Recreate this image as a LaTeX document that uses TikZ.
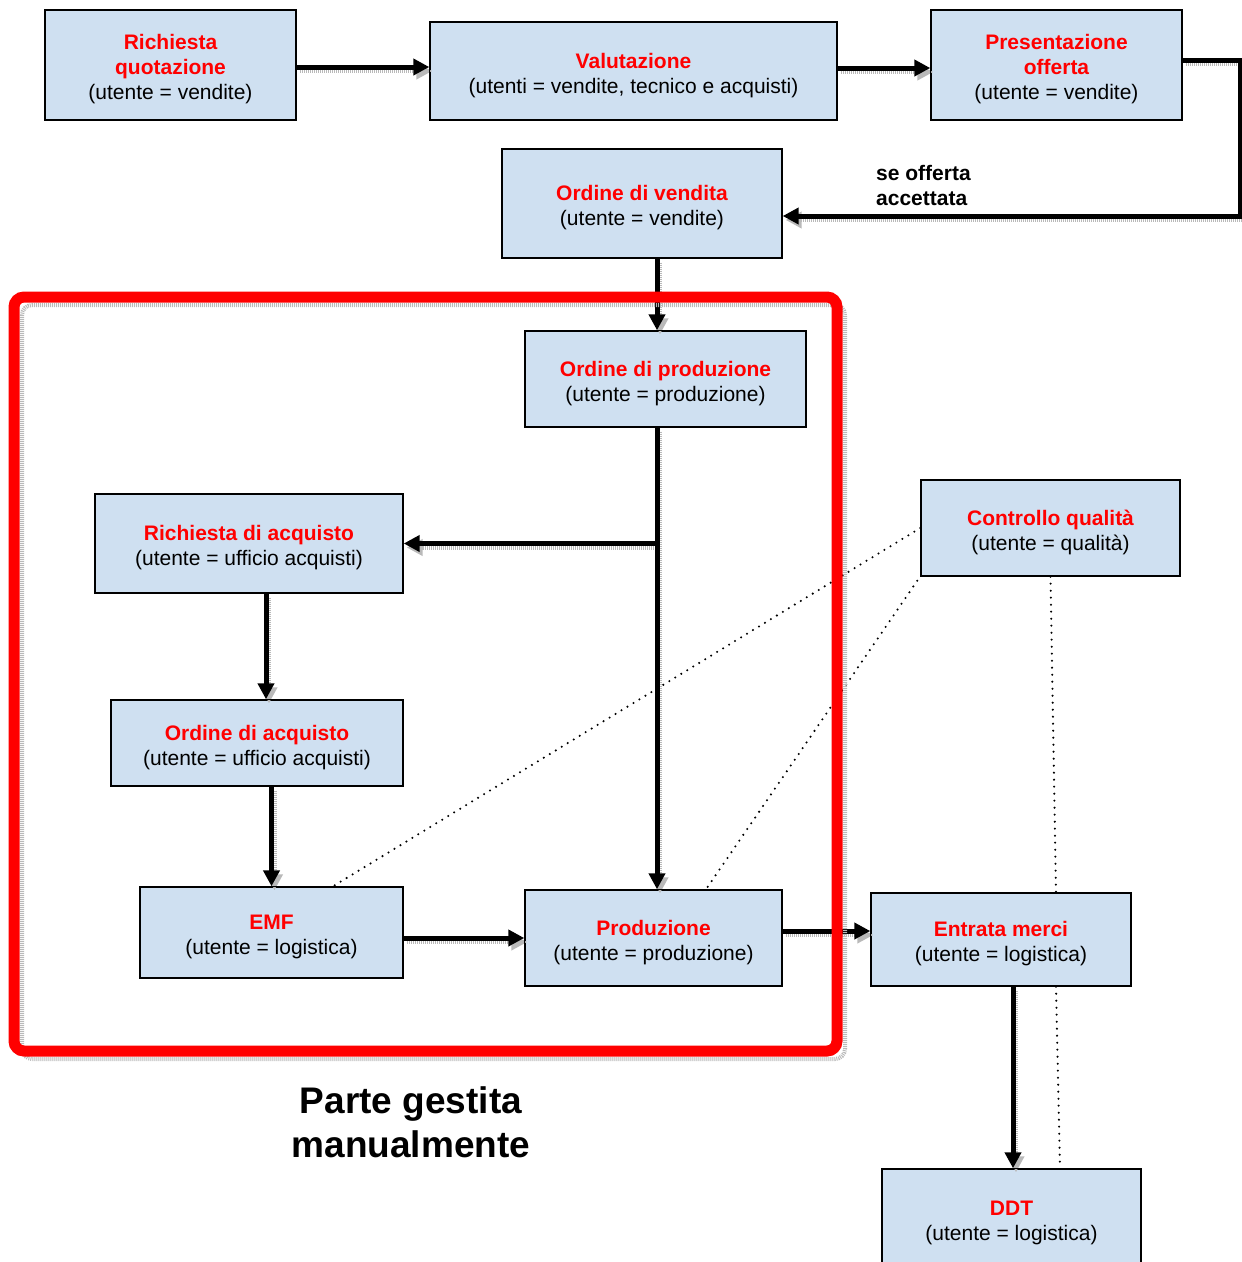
\documentclass[tikz,border=0pt]{standalone}
\usepackage{fontspec}
\setmainfont{Liberation Sans}
\usetikzlibrary{arrows.meta}
\definecolor{boxblue}{RGB}{207,224,241}
\definecolor{headred}{RGB}{255,0,0}
\newcommand\boxhead[1]{{\color{headred}\bfseries #1}}
\newcommand\topstrut{\rule{0pt}{24pt}}
\begin{document}
\begin{tikzpicture}[x=1pt,y=-1pt,
  flowbox/.style={draw=black, line width=1.4pt, fill=boxblue, inner sep=0pt,
    align=center, font=\fontsize{21}{25}\selectfont},
  arr/.style={line width=5pt, -{Triangle[length=16pt,width=16pt]}},
  shade/.style={draw=gray!55, line width=4pt, dash pattern=on 1pt off 1pt,
    transform canvas={shift={(3pt,-4pt)}}},
  shadearr/.style={shade, -{Triangle[length=16pt,width=16pt]}},
  link/.style={line width=2.3pt, dash pattern=on 0pt off 7pt, line cap=round},
  frame/.style={draw=headred, line width=11pt, rounded corners=10pt}
]
\useasboundingbox (0,0) rectangle (1242,1262);

% process steps
\node[flowbox, minimum width=251pt, minimum height=110pt] (rq) at (170.5,65)
  {\topstrut\boxhead{Richiesta}\\\boxhead{quotazione}\\(utente = vendite)};
\node[flowbox, minimum width=407pt, minimum height=98pt] (val) at (633.5,71)
  {\topstrut\boxhead{Valutazione}\\(utenti = vendite, tecnico e acquisti)};
\node[flowbox, minimum width=251pt, minimum height=110pt] (po) at (1056.5,65)
  {\topstrut\boxhead{Presentazione}\\\boxhead{offerta}\\(utente = vendite)};
\node[flowbox, minimum width=280pt, minimum height=109pt] (ov) at (642,203.5)
  {\topstrut\boxhead{Ordine di vendita}\\(utente = vendite)};
\node[flowbox, minimum width=281pt, minimum height=96pt] (op) at (665.5,379)
  {\topstrut\boxhead{Ordine di produzione}\\(utente = produzione)};
\node[flowbox, minimum width=308pt, minimum height=99pt] (rda) at (249,543.5)
  {\topstrut\boxhead{Richiesta di acquisto}\\(utente = ufficio acquisti)};
\node[flowbox, minimum width=292pt, minimum height=86pt] (oda) at (257,743)
  {\topstrut\boxhead{Ordine di acquisto}\\(utente = ufficio acquisti)};
\node[flowbox, minimum width=263pt, minimum height=91pt] (emf) at (271.5,932.5)
  {\topstrut\boxhead{EMF}\\(utente = logistica)};
\node[flowbox, minimum width=257pt, minimum height=96pt] (prod) at (653.5,938)
  {\topstrut\boxhead{Produzione}\\(utente = produzione)};
\node[flowbox, minimum width=259pt, minimum height=96pt] (cq) at (1050.5,528)
  {\topstrut\boxhead{Controllo qualità}\\(utente = qualità)};
\node[flowbox, minimum width=260pt, minimum height=93pt] (em) at (1001,939.5)
  {\topstrut\boxhead{Entrata merci}\\(utente = logistica)};
\node[flowbox, minimum width=259pt, minimum height=99pt] (ddt) at (1011.5,1218.5)
  {\topstrut\boxhead{DDT}\\(utente = logistica)};

% helper points on the connectors
\coordinate (poout) at ([yshift=5pt]po.east);
\coordinate (pocorner) at ([xshift=58pt]poout);
\coordinate (ovin) at ([yshift=-12.5pt]ov.east);
\coordinate (br) at ([xshift=-8.5pt]op.south |- rda.east);

% drop shadows of the connectors
\draw[shadearr] ([yshift=-2pt]rq.east) -- ([yshift=-2pt]rq.east -| val.west);
\draw[shadearr] ([yshift=3pt]val.east) -- ([yshift=3pt]val.east -| po.west);
\draw[shadearr] (poout) -- (pocorner) |- (ovin);
\draw[shadearr] ([xshift=15pt]ov.south) -- ([xshift=15pt]ov.south |- op.north);
\draw[shadearr] ([xshift=-8.5pt]op.south) -- ([xshift=-8.5pt]op.south |- prod.north);
\draw[shadearr] (br) -- (rda.east);
\draw[shadearr] ([xshift=17pt]rda.south) -- ([xshift=17pt]rda.south |- oda.north);
\draw[shadearr] (oda.south -| emf.north) -- (emf.north);
\draw[shadearr] (emf.east |- prod.west) -- (prod.west);
\draw[shadearr] ([yshift=7pt]prod.east) -- ([yshift=7pt]prod.east -| em.west);
\draw[shadearr] ([xshift=12pt]em.south) -- ([xshift=12pt]em.south |- ddt.north);

% connectors
\draw[arr] ([yshift=-2pt]rq.east) -- ([yshift=-2pt]rq.east -| val.west);
\draw[arr] ([yshift=3pt]val.east) -- ([yshift=3pt]val.east -| po.west);
\draw[arr] (poout) -- (pocorner) |- (ovin);
\draw[arr] ([xshift=15pt]ov.south) -- ([xshift=15pt]ov.south |- op.north);
\draw[arr] ([xshift=-8.5pt]op.south) -- ([xshift=-8.5pt]op.south |- prod.north);
\draw[arr] (br) -- (rda.east);
\draw[arr] ([xshift=17pt]rda.south) -- ([xshift=17pt]rda.south |- oda.north);
\draw[arr] (oda.south -| emf.north) -- (emf.north);
\draw[arr] (emf.east |- prod.west) -- (prod.west);
\draw[arr] ([yshift=7pt]prod.east) -- ([yshift=7pt]prod.east -| em.west);
\draw[arr] ([xshift=12pt]em.south) -- ([xshift=12pt]em.south |- ddt.north);

\node[anchor=west, align=left, inner sep=0pt, font=\fontsize{21}{25}\selectfont\bfseries]
  (acc) at (876,185) {se offerta\\accettata};

% quality-control links
\draw[link] (cq.west) -- ([xshift=61.5pt]emf.north);
\draw[link] ([xshift=-3pt,yshift=-4pt]cq.south west) -- ([xshift=52.5pt]prod.north);
\draw[link] (cq.south) -- ([xshift=55pt]em.north);
\draw[link] ([xshift=55pt]em.south) -- ([xshift=48.5pt]ddt.north);

% manually handled area
\draw[draw=gray!55, line width=4pt, dash pattern=on 1pt off 1pt, rounded corners=10pt]
  (22,305) rectangle (845,1059);
\node[frame, minimum width=823pt, minimum height=754pt, inner sep=0pt] (manual) at (425.5,674) {};
\node[align=center, inner sep=0pt, font=\fontsize{37}{44}\selectfont\bfseries]
  (manlabel) at (411,1122.5) {Parte gestita\\manualmente};

% box outlines drawn again above the frame and connectors
\foreach \n in {rq,val,po,ov,op,rda,oda,emf,prod,cq,em,ddt}{
  \draw[line width=1.4pt] (\n.south west) rectangle (\n.north east);
}
\end{tikzpicture}
\end{document}
